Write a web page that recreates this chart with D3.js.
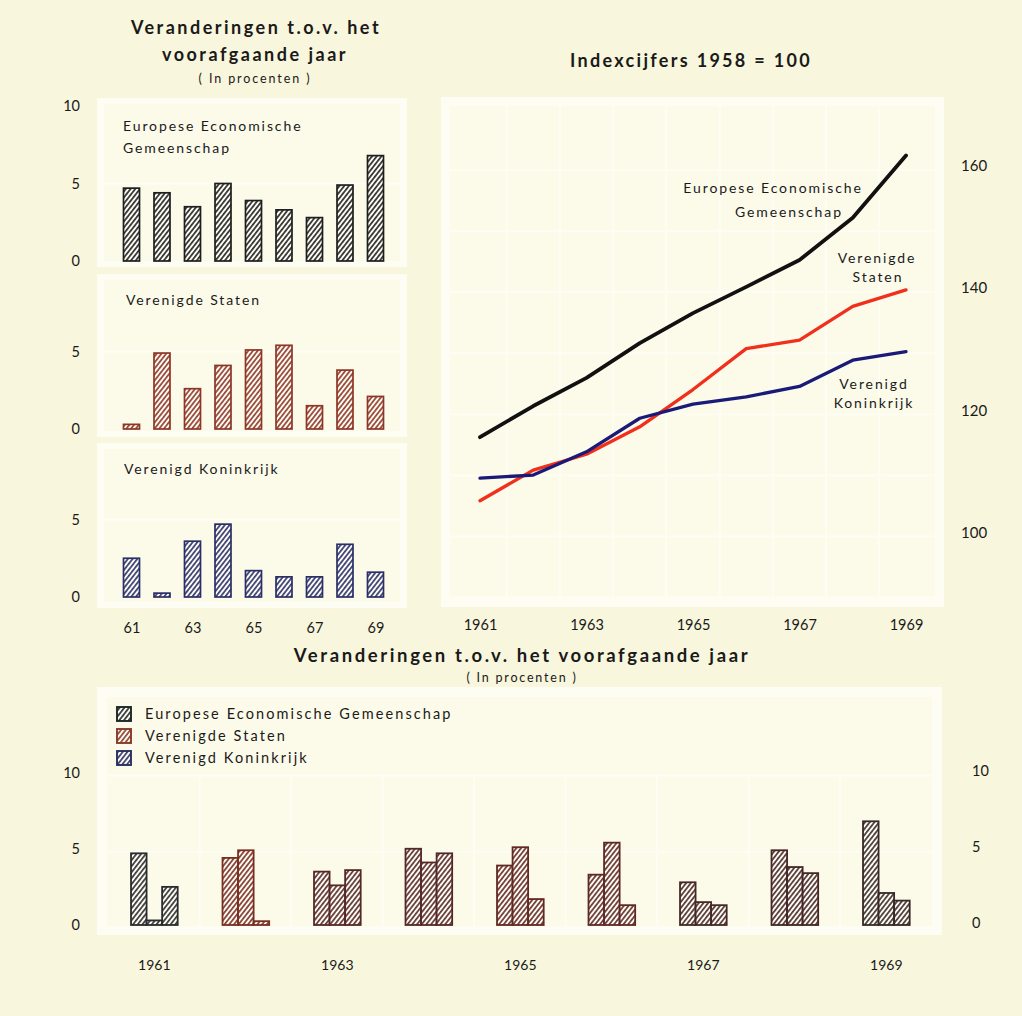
<!DOCTYPE html>
<html>
<head>
<meta charset="utf-8">
<script src="https://cdn.jsdelivr.net/npm/d3@7/dist/d3.min.js"></script>
<style>
  html, body { margin: 0; padding: 0; background: #f8f6dc; }
  svg { display: block; }
  text { font-family: Lato, "Noto Sans", sans-serif; fill: #1a1a1a; }
</style>
</head>
<body>
<svg id="chart" width="1022" height="1016"></svg>
<script>
// ---------------- DATA ----------------
const years = [1961, 1962, 1963, 1964, 1965, 1966, 1967, 1968, 1969];
const seriesNames = ["Europese Economische Gemeenschap", "Verenigde Staten", "Verenigd Koninkrijk"];
// yearly change in percent
const changeEEC = [4.7, 4.4, 3.5, 5.0, 3.9, 3.3, 2.8, 4.9, 6.8];
const changeUS  = [0.3, 4.9, 2.6, 4.1, 5.1, 5.4, 1.5, 3.8, 2.1];
const changeUK  = [2.5, 0.25, 3.6, 4.7, 1.7, 1.3, 1.3, 3.4, 1.6];
// index 1958 = 100
const indexEEC = [115.6, 120.7, 125.3, 131.0, 135.9, 140.2, 144.6, 151.5, 161.7];
const indexUS  = [105.2, 110.2, 112.8, 117.3, 123.4, 130.1, 131.5, 137.0, 139.7];
const indexUK  = [108.9, 109.4, 113.2, 118.7, 121.0, 122.2, 123.9, 128.2, 129.6];
const smallTickLabels = ["61", "63", "65", "67", "69"];
const smallTickYears = [1961, 1963, 1965, 1967, 1969];
const indexTicks = [100, 120, 140, 160];
const changeTicksTop = [0, 5, 10];
const changeTicks = [0, 5];
const bottomTicks = [0, 5, 10];

// ---------------- STYLE ----------------
const colEEC = "#1e1e1e", colUS = "#8e3626", colUK = "#2a2f68";
const lineCol = ["#111111", "#f0301c", "#1a1a78"];
const groupCol = ["#2a2b2c", "#7a2e22", "#552827", "#552827", "#622823", "#5e2824", "#462826", "#452525", "#382927"];
const BG = "#f8f6dc", PANEL = "#fefdf4", CELL = "#fcfbea";

const svg = d3.select("#chart");
svg.append("rect").attr("width", 1022).attr("height", 1016).attr("fill", BG);
const defs = svg.append("defs");

function hatch(id, color) {
  const s = 3.7;
  const p = defs.append("pattern").attr("id", id)
    .attr("patternUnits", "userSpaceOnUse").attr("width", s).attr("height", s)
    .attr("patternTransform", "rotate(38)");
  p.append("rect").attr("width", s).attr("height", s).attr("fill", "#fefdf5");
  p.append("line").attr("x1", 0.9).attr("y1", 0).attr("x2", 0.9).attr("y2", s)
    .attr("stroke", color).attr("stroke-width", 1.6);
  return "url(#" + id + ")";
}

function letter(sel, ls) { return sel.style("letter-spacing", ls + "px"); }

// ---------- TOP LEFT: small multiples ----------
letter(svg.append("text").attr("x", 256).attr("y", 34).attr("text-anchor", "middle")
  .attr("font-size", 18).attr("font-weight", 700).text("Veranderingen t.o.v. het"), 2.5);
letter(svg.append("text").attr("x", 255).attr("y", 61).attr("text-anchor", "middle")
  .attr("font-size", 18).attr("font-weight", 700).text("voorafgaande jaar"), 2.5);
letter(svg.append("text").attr("x", 255).attr("y", 83).attr("text-anchor", "middle")
  .attr("font-size", 12.5).text("( In procenten )"), 1.9);

const xs = d3.scalePoint().domain(years).range([131.5, 375.5]);
const smallPanels = [
  { data: changeEEC, col: colEEC, id: "hEEC", base: 261, top: 106, box: [98, 267], label: ["Europese Economische", "Gemeenschap"], lx: 123, ly: 131, ticks: changeTicksTop },
  { data: changeUS, col: colUS, id: "hUS", base: 429, top: 274, box: [274, 437], label: ["Verenigde Staten"], lx: 126, ly: 305, ticks: changeTicks },
  { data: changeUK, col: colUK, id: "hUK", base: 597, top: 442, box: [443, 608], label: ["Verenigd Koninkrijk"], lx: 124, ly: 474, ticks: changeTicks }
];
smallPanels.forEach(p => {
  const y = d3.scaleLinear().domain([0, 10]).range([p.base, p.top]);
  svg.append("rect").attr("x", 97).attr("y", p.box[0]).attr("width", 310).attr("height", p.box[1] - p.box[0]).attr("fill", PANEL);
  svg.append("rect").attr("x", 104).attr("y", p.box[0] + 6).attr("width", 296).attr("height", p.box[1] - p.box[0] - 12).attr("fill", CELL);
  svg.append("line").attr("x1", 104).attr("x2", 400).attr("y1", y(5)).attr("y2", y(5)).attr("stroke", PANEL).attr("stroke-width", 2);
  const fill = hatch(p.id, p.col);
  svg.append("g").selectAll("rect").data(p.data).join("rect")
    .attr("x", (d, i) => xs(years[i]) - 8).attr("width", 16)
    .attr("y", d => y(d)).attr("height", d => y(0) - y(d))
    .attr("fill", fill).attr("stroke", p.col).attr("stroke-width", 1.7);
  p.label.forEach((t, k) => letter(svg.append("text").attr("x", p.lx).attr("y", p.ly + k * 22)
    .attr("font-size", 14).text(t), 1.9));
  const ax = d3.axisLeft(y).tickValues(p.ticks).tickSize(0).tickPadding(0).tickFormat(d3.format("d"));
  const g = svg.append("g").attr("transform", "translate(80,0)").call(ax);
  g.select(".domain").remove();
  g.selectAll("text").attr("font-size", 14.5).attr("font-family", "Lato, sans-serif").attr("fill", "#1a1a1a").attr("text-anchor", "end");
});
const xsAxis = d3.axisBottom(xs).tickValues(smallTickYears).tickSize(0)
  .tickFormat((d, i) => smallTickLabels[i]);
const gxs = svg.append("g").attr("transform", "translate(0,620)").call(xsAxis);
gxs.select(".domain").remove();
gxs.selectAll("text").attr("font-size", 14.5).attr("font-family", "Lato, sans-serif").attr("fill", "#1a1a1a");

// ---------- TOP RIGHT: index lines ----------
letter(svg.append("text").attr("x", 691).attr("y", 67).attr("text-anchor", "middle")
  .attr("font-size", 18).attr("font-weight", 700).text("Indexcijfers 1958 = 100"), 2.3);

const xl = d3.scaleLinear().domain([1961, 1969]).range([480, 906]);
const yl = d3.scaleLinear().domain([100, 160]).range([532.5, 165.9]);
svg.append("rect").attr("x", 441).attr("y", 97).attr("width", 503).attr("height", 510).attr("fill", PANEL);
svg.append("rect").attr("x", 450).attr("y", 106).attr("width", 485).attr("height", 492).attr("fill", CELL);
const gridG = svg.append("g").attr("stroke", PANEL).attr("stroke-width", 2);
d3.range(1961.5, 1969, 1).forEach(v => gridG.append("line").attr("x1", xl(v)).attr("x2", xl(v)).attr("y1", 106).attr("y2", 598));
d3.range(90, 171, 10).forEach(v => { if (yl(v) > 106 && yl(v) < 598) gridG.append("line").attr("x1", 450).attr("x2", 935).attr("y1", yl(v) + 4).attr("y2", yl(v) + 4); });

const indexSeries = [indexEEC, indexUS, indexUK];
const lineGen = d3.line().x((d, i) => xl(years[i])).y(d => yl(d));
indexSeries.forEach((s, k) => {
  svg.append("path").datum(s).attr("d", lineGen).attr("fill", "none")
    .attr("stroke", lineCol[k]).attr("stroke-width", k === 0 ? 3.8 : 3.3)
    .attr("stroke-linejoin", "round").attr("stroke-linecap", "round");
});
[["Europese Economische", 773, 193], ["Gemeenschap", 789, 217], ["Verenigde", 877, 263], ["Staten", 878, 282],
 ["Verenigd", 874, 389], ["Koninkrijk", 874, 408]].forEach(a => {
  letter(svg.append("text").attr("x", a[1]).attr("y", a[2]).attr("text-anchor", "middle")
    .attr("font-size", 14).text(a[0]), 1.9);
});
const ayl = d3.axisRight(yl).tickValues(indexTicks).tickSize(0).tickPadding(0).tickFormat(d3.format("d"));
const gyl = svg.append("g").attr("transform", "translate(961,0)").call(ayl);
gyl.select(".domain").remove();
gyl.selectAll("text").attr("font-size", 15).attr("font-family", "Lato, sans-serif").attr("fill", "#1a1a1a");
const axl = d3.axisBottom(xl).tickValues(smallTickYears).tickSize(0).tickFormat(d3.format("d"));
const gxl = svg.append("g").attr("transform", "translate(0,617)").call(axl);
gxl.select(".domain").remove();
gxl.selectAll("text").attr("font-size", 14.5).attr("font-family", "Lato, sans-serif").attr("fill", "#1a1a1a");

// ---------- BOTTOM: grouped bars ----------
letter(svg.append("text").attr("x", 522).attr("y", 662).attr("text-anchor", "middle")
  .attr("font-size", 18.5).attr("font-weight", 700).text("Veranderingen t.o.v. het voorafgaande jaar"), 2.6);
letter(svg.append("text").attr("x", 522).attr("y", 682).attr("text-anchor", "middle")
  .attr("font-size", 12.5).text("( In procenten )"), 1.8);

svg.append("rect").attr("x", 97).attr("y", 687).attr("width", 845).attr("height", 248).attr("fill", PANEL);
svg.append("rect").attr("x", 107).attr("y", 697).attr("width", 825).attr("height", 229).attr("fill", CELL);
const xb = d3.scaleBand().domain(years).range([108.6, 932.1]).paddingInner(0.49).paddingOuter(0.245);
const xin = d3.scaleBand().domain([0, 1, 2]).range([0, xb.bandwidth()]);
const yb = d3.scaleLinear().domain([0, 10]).range([925, 772.5]);
const gridB = svg.append("g").attr("stroke", PANEL).attr("stroke-width", 2);
years.slice(1).forEach(yr => gridB.append("line").attr("x1", xb(yr) - xb.step() * 0.245 - 0.5).attr("x2", xb(yr) - xb.step() * 0.245 - 0.5).attr("y1", 776).attr("y2", 926));
[5, 10].forEach(v => gridB.append("line").attr("x1", 107).attr("x2", 932).attr("y1", yb(v) + 3).attr("y2", yb(v) + 3));

const changeSeries = [changeEEC, changeUS, changeUK];
years.forEach((yr, gi) => {
  const fill = hatch("hg" + gi, groupCol[gi]);
  const g = svg.append("g").attr("transform", "translate(" + xb(yr) + ",0)");
  g.selectAll("rect").data(changeSeries.map(s => s[gi])).join("rect")
    .attr("x", (d, k) => xin(k)).attr("width", xin.bandwidth())
    .attr("y", d => yb(d)).attr("height", d => yb(0) - yb(d))
    .attr("fill", fill).attr("stroke", groupCol[gi]).attr("stroke-width", 1.8);
});
// legend
const legCols = ["#1d2826", "#8a3a28", "#2a3062"];
seriesNames.forEach((n, k) => {
  const f = hatch("hl" + k, legCols[k]);
  svg.append("rect").attr("x", 117).attr("y", 707 + k * 22).attr("width", 14).attr("height", 14)
    .attr("fill", f).attr("stroke", legCols[k]).attr("stroke-width", 1.9);
  letter(svg.append("text").attr("x", 145).attr("y", 719 + k * 22).attr("font-size", 14.5).text(n), 2.1);
});
const ayb1 = d3.axisLeft(yb).tickValues(bottomTicks).tickSize(0).tickPadding(0).tickFormat(d3.format("d"));
const gyb1 = svg.append("g").attr("transform", "translate(80,0)").call(ayb1);
gyb1.select(".domain").remove();
gyb1.selectAll("text").attr("font-size", 14.5).attr("font-family", "Lato, sans-serif").attr("fill", "#1a1a1a");
const ayb2 = d3.axisRight(yb).tickValues(bottomTicks).tickSize(0).tickPadding(0).tickFormat(d3.format("d"));
const gyb2 = svg.append("g").attr("transform", "translate(972,-2)").call(ayb2);
gyb2.select(".domain").remove();
gyb2.selectAll("text").attr("font-size", 14.5).attr("font-family", "Lato, sans-serif").attr("fill", "#1a1a1a");
const axb = d3.axisBottom(xb).tickValues(smallTickYears).tickSize(0).tickFormat(d3.format("d"));
const gxb = svg.append("g").attr("transform", "translate(0,957)").call(axb);
gxb.select(".domain").remove();
gxb.selectAll("text").attr("font-size", 14).attr("font-family", "Lato, sans-serif").attr("fill", "#1a1a1a");
</script>
</body>
</html>
